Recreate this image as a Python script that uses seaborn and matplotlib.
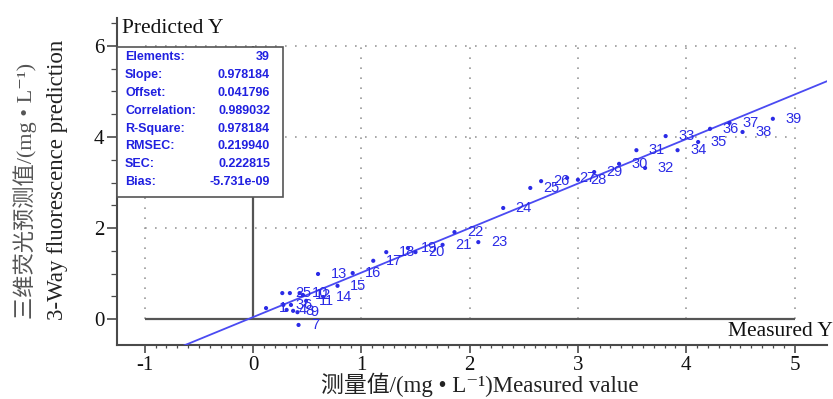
import numpy as np
import pandas as pd
import matplotlib
matplotlib.use("Agg")
import matplotlib.pyplot as plt
import seaborn as sns
from matplotlib.patches import Rectangle
from matplotlib.ticker import FixedLocator

# Calibration samples: measured vs. 3-way fluorescence predicted (mg/L)
sample_ids = list(range(1, 40))
measured = [0.12, 0.27, 0.28, 0.31, 0.34, 0.35, 0.42, 0.37, 0.41, 0.43,
            0.49, 0.46, 0.60, 0.65, 0.78, 0.92, 1.11, 1.23, 1.43, 1.50,
            1.75, 1.86, 2.08, 2.31, 2.56, 2.66, 2.90, 3.00, 3.15, 3.38,
            3.54, 3.62, 3.81, 3.92, 4.11, 4.22, 4.40, 4.52, 4.80]
predicted = [0.24, 0.57, 0.31, 0.20, 0.57, 0.31, -0.13, 0.18, 0.15, 0.57,
             0.40, 0.53, 0.99, 0.48, 0.73, 1.01, 1.28, 1.47, 1.56, 1.47,
             1.63, 1.91, 1.69, 2.44, 2.88, 3.03, 3.10, 3.06, 3.23, 3.41,
             3.71, 3.32, 4.02, 3.71, 3.89, 4.18, 4.31, 4.11, 4.40]

# Regression summary
slope = 0.978184
offset = 0.041796
stat_names = ["Elements:", "Slope:", "Offset:", "Correlation:", "R-Square:",
              "RMSEC:", "SEC:", "Bias:"]
stat_values = ["39", "0.978184", "0.041796", "0.989032", "0.978184",
               "0.219940", "0.222815", "-5.731e-09"]

x_ticks = [-1, 0, 1, 2, 3, 4, 5]
y_ticks = [0, 2, 4, 6]

sns.set_theme(style="white")
plt.rcParams["font.family"] = ["Liberation Serif", "Noto Sans CJK SC",
                               "DejaVu Serif"]

BLUE = "#2b2be6"
LINE_BLUE = "#4a4af2"
GRID = "#9a9a9a"
DARK = "#4a4a4a"

df = pd.DataFrame({"sample": sample_ids, "measured": measured,
                   "predicted": predicted})

fig = plt.figure(figsize=(8.33, 3.99), dpi=100)
ax = fig.add_axes([0.1405, 0.1353, 0.8523, 0.8196])
ax.set_xlim(-1.256, 5.30)
ax.set_ylim(-0.571, 6.615)

# dotted reference grid inside the plotting frame
ax.vlines([v for v in x_ticks if v != 0], y_ticks[0], y_ticks[-1],
          colors=GRID, linestyles=(0, (1, 5)), linewidth=1.2, zorder=1)
ax.hlines([v for v in y_ticks if v != 0], x_ticks[0], x_ticks[-1],
          colors=GRID, linestyles=(0, (1, 5)), linewidth=1.2, zorder=1)

# solid zero cross-hair
ax.hlines(0, x_ticks[0], x_ticks[-1], colors="#555555", linewidth=1.6, zorder=2)
ax.vlines(0, 0, y_ticks[-1], colors="#555555", linewidth=1.6, zorder=2)

# fitted line from the reported slope and offset
fit_x = np.array(ax.get_xlim())
fit = pd.DataFrame({"x": fit_x, "y": slope * fit_x + offset})
sns.lineplot(data=fit, x="x", y="y", ax=ax, color=LINE_BLUE, linewidth=1.3,
             zorder=3, legend=False)

sns.scatterplot(data=df, x="measured", y="predicted", ax=ax, s=9,
                color=BLUE, edgecolor="none", zorder=4, legend=False)

for sid, mx, py in zip(df["sample"], df["measured"], df["predicted"]):
    ax.annotate(str(sid), (mx, py), xytext=(9, 0), textcoords="offset points",
                ha="left", va="center", fontsize=10.5, color=BLUE,
                family="Liberation Sans", zorder=4)

# statistics panel
ax.add_patch(Rectangle((0, 0.4526), 0.2338, 0.4587, transform=ax.transAxes,
                       facecolor="white", edgecolor="#555555", linewidth=1.2,
                       zorder=6, clip_on=False))
row0, step = 0.8807, 0.0547
for i, (name, val) in enumerate(zip(stat_names, stat_values)):
    yy = row0 - i * step
    ax.text(0.0113, yy, name, transform=ax.transAxes, ha="left", va="center",
            fontsize=9, fontweight="bold", color="#2020e0",
            family="Liberation Sans", zorder=7)
    ax.text(0.2155, yy, val, transform=ax.transAxes, ha="right", va="center",
            fontsize=9, fontweight="bold", color="#2020e0",
            family="Liberation Sans", zorder=7)

ax.text(0.007, 0.969, "Predicted Y", transform=ax.transAxes, ha="left",
        va="center", fontsize=15.5, color="#111111", clip_on=False)
ax.text(0.8606, 0.04, "Measured Y", transform=ax.transAxes, ha="left",
        va="center", fontsize=15.5, color="#111111", clip_on=False)

# axes frame and ticks
for side in ("top", "right"):
    ax.spines[side].set_visible(False)
for side in ("left", "bottom"):
    ax.spines[side].set_color(DARK)
    ax.spines[side].set_linewidth(1.5)

ax.set_xticks(x_ticks)
ax.set_yticks(y_ticks)
ax.set_xticklabels([str(v) for v in x_ticks])
ax.set_yticklabels([str(v) for v in y_ticks])
ax.xaxis.set_minor_locator(FixedLocator(np.arange(-1, 5.001, 0.1)))
ax.yaxis.set_minor_locator(FixedLocator(np.arange(0, 6.51, 0.5)))
ax.tick_params(axis="x", which="major", direction="out", length=6, width=1.2,
               color=DARK, labelsize=15, labelcolor="#111111", pad=2,
               bottom=True)
ax.tick_params(axis="x", which="minor", direction="out", length=2.5,
               width=0.9, color=DARK, bottom=True)
ax.tick_params(axis="y", which="major", direction="out", length=7, width=1.2,
               color=DARK, labelsize=15, labelcolor="#111111", pad=2,
               left=True)
ax.tick_params(axis="y", which="minor", direction="out", length=4,
               width=0.9, color=DARK, left=True)
ax.set_xlabel("")
ax.set_ylabel("")

fig.text(480 / 833, 1 - 385 / 399, "测量值/(mg • L⁻¹)Measured value",
         ha="center", va="center", fontsize=16.5, color="#222222")
fig.text(25 / 833, 1 - 191 / 399, "三维荧光预测值/(mg • L⁻¹)",
         rotation=90, ha="center", va="center", fontsize=16, color="#555555")
fig.text(58 / 833, 1 - 180 / 399, "3-Way fluorescence prediction",
         rotation=90, ha="center", va="center", fontsize=16.5, color="#222222")

fig.savefig("out.png", dpi=100)
